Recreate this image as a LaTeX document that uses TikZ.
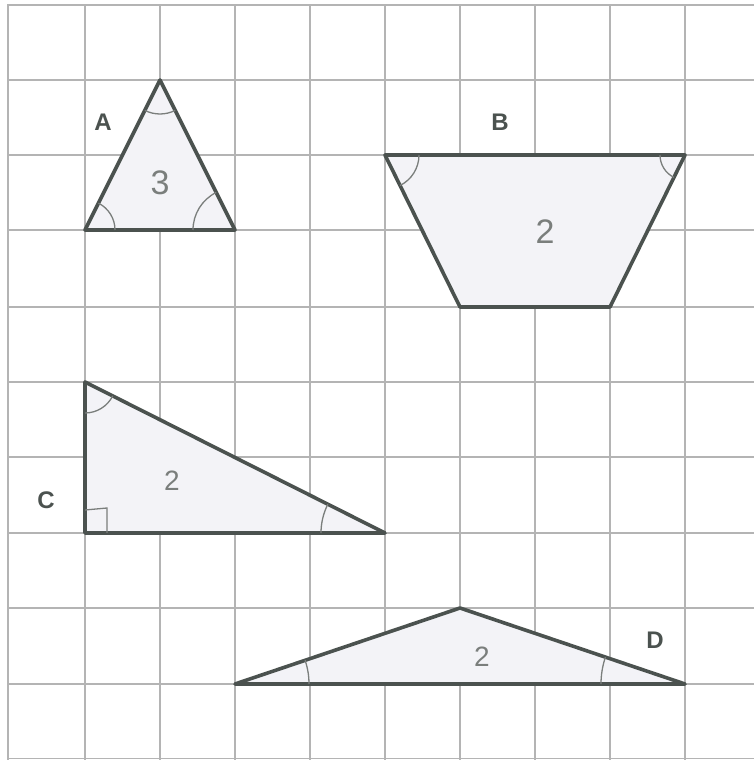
\documentclass[tikz,border=0pt]{standalone}
\usepackage{fontspec}
\setsansfont{Liberation Sans}
\definecolor{gridc}{HTML}{B4B4B4}
\definecolor{shapec}{HTML}{4B524F}
\definecolor{fillc}{HTML}{F3F3F7}
\definecolor{handc}{HTML}{7A7E7C}
\begin{document}
\begin{tikzpicture}[x=1pt,y=1pt,
  gridline/.style={draw=gridc,line width=1.4pt},
  polyshape/.style={draw=shapec,fill=fillc,line width=3.6pt,line join=round},
  anglemark/.style={draw=handc,line width=1.3pt},
  letter/.style={text=shapec,font=\sffamily\bfseries\fontsize{24}{24}\selectfont,inner sep=0pt},
  hand/.style={text=handc,font=\sffamily\fontsize{34}{34}\selectfont,inner sep=0pt}]
\useasboundingbox (0,0) rectangle (754,760);
\fill[white] (0,0) rectangle (754,760);
% grid
\foreach \x in {85,160,235,310,385,460,535,610,685}
  \draw[gridline] (\x,0) -- (\x,755);
\foreach \y in {680,605,530,453,378,303,227,152,76,1.5}
  \draw[gridline] (8,\y) -- (754,\y);
\draw[gridline] (8,0) -- (8,755) -- (754,755);
% shape A
\draw[polyshape] (85,530) -- (160,680) -- (235,530) -- cycle;
\draw[anglemark] (85,530) ++(0:30) arc[start angle=0,end angle=63.4,radius=30];
\draw[anglemark] (235,530) ++(116.6:42) arc[start angle=116.6,end angle=180,radius=42];
\draw[anglemark] (160,680) ++(243.4:34) arc[start angle=243.4,end angle=296.6,radius=34];
\node[letter] (la) at (103,638) {A};
\node[hand] (na) at (160,577) {3};
% shape B
\draw[polyshape] (385,605) -- (685,605) -- (610,453) -- (460,453) -- cycle;
\draw[anglemark] (385,605) ++(-63.7:34) arc[start angle=-63.7,end angle=0,radius=34];
\draw[anglemark] (685,605) ++(180:25) arc[start angle=180,end angle=243.7,radius=25];
\node[letter] (lb) at (500,638) {B};
\node[hand] (nb) at (545,528) {2};
% shape C
\draw[polyshape] (85,378) -- (85,227) -- (385,227) -- cycle;
\draw[anglemark] (85,378) ++(-90:31) arc[start angle=-90,end angle=-26.7,radius=31];
\draw[anglemark] (385,227) ++(153.3:64) arc[start angle=153.3,end angle=180,radius=64];
\draw[anglemark] (85,250) -- (107,252) -- (107,227);
\node[letter] (lc) at (46,260) {C};
\node[hand,font=\sffamily\fontsize{28}{28}\selectfont] (nc) at (172,279) {2};
% shape D
\draw[polyshape] (235,76) -- (460,152) -- (685,76) -- cycle;
\draw[anglemark] (235,76) ++(0:74) arc[start angle=0,end angle=18.7,radius=74];
\draw[anglemark] (685,76) ++(161.3:84) arc[start angle=161.3,end angle=180,radius=84];
\node[letter] (ld) at (655,120) {D};
\node[hand,font=\sffamily\fontsize{28}{28}\selectfont] (nd) at (482,103) {2};
\end{tikzpicture}
\end{document}
